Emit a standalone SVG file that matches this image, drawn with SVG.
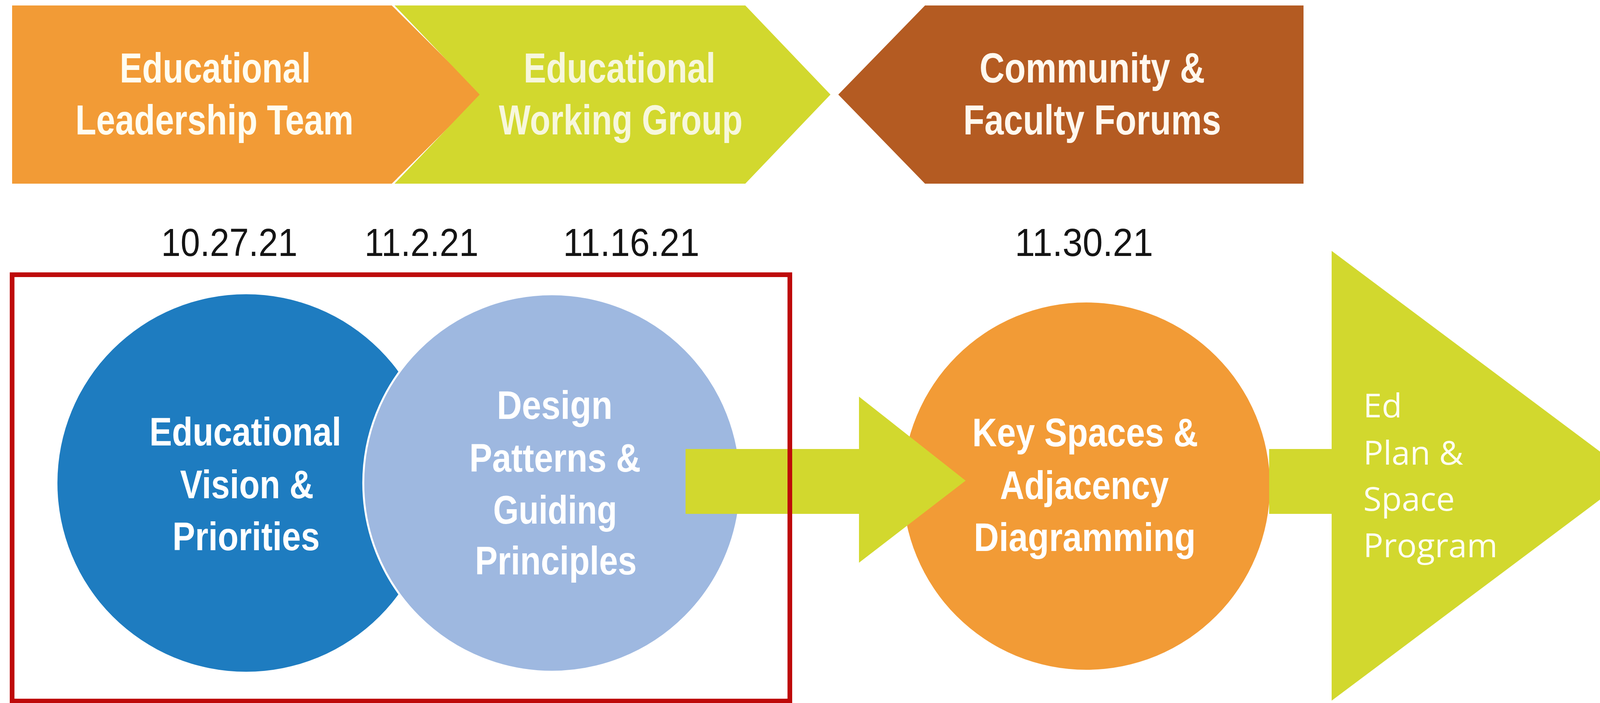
<svg xmlns="http://www.w3.org/2000/svg" width="4179" height="1799" viewBox="0 0 4179 1799">
  <style>
    .bg { fill: #ffffff; }
    .hdr { font-family: "Liberation Sans", Arial, sans-serif; font-weight: bold; font-size: 108px; text-anchor: middle; }
    .date { font-family: "Liberation Sans", Arial, sans-serif; font-size: 100px; fill: #141414; text-anchor: middle; }
    .ctext { font-family: "Liberation Sans", Arial, sans-serif; font-weight: bold; font-size: 102px; text-anchor: middle; fill: #FFFFFF; }
    .otext { font-family: "Open Sans", "Liberation Sans", sans-serif; font-size: 85px; fill: #FFFFF0; }
    .green { fill: #D2D82E; }
  </style>
  <rect class="bg" x="0" y="0" width="4179" height="1799"/>

  <g id="educational-leadership-team">
    <polygon points="31,14 1003,14 1233,242 1003,470 31,470" fill="#F29B36"/>
    <text class="hdr" fill="#FFFDF0" x="551" y="211" textLength="489" lengthAdjust="spacingAndGlyphs">Educational</text>
    <text class="hdr" fill="#FFFDF0" x="549" y="344" textLength="712" lengthAdjust="spacingAndGlyphs">Leadership Team</text>
  </g>

  <g id="educational-working-group">
    <polygon class="green" points="1010,14 1908,14 2126,242 1908,470 1010,470 1228,242"/>
    <text class="hdr" fill="#F7F7DC" x="1586" y="211" textLength="491" lengthAdjust="spacingAndGlyphs">Educational</text>
    <text class="hdr" fill="#F7F7DC" x="1589" y="344" textLength="624" lengthAdjust="spacingAndGlyphs">Working Group</text>
  </g>

  <g id="community-faculty-forums">
    <polygon points="2146,242 2368,14 3337,14 3337,470 2368,470" fill="#B45B22"/>
    <text class="hdr" fill="#FFF8EE" x="2796" y="211" textLength="577" lengthAdjust="spacingAndGlyphs">Community &amp;</text>
    <text class="hdr" fill="#FFF8EE" x="2796" y="344" textLength="660" lengthAdjust="spacingAndGlyphs">Faculty Forums</text>
  </g>

  <g id="dates">
    <text class="date" x="587" y="655" textLength="349" lengthAdjust="spacingAndGlyphs">10.27.21</text>
    <text class="date" x="1079" y="655" textLength="292" lengthAdjust="spacingAndGlyphs">11.2.21</text>
    <text class="date" x="1616" y="655" textLength="349" lengthAdjust="spacingAndGlyphs">11.16.21</text>
    <text class="date" x="2775" y="655" textLength="354" lengthAdjust="spacingAndGlyphs">11.30.21</text>
  </g>

  <g id="educational-vision-priorities">
    <circle cx="630" cy="1236" r="483" fill="#1E7CC0"/>
    <text class="ctext" x="628" y="1140" textLength="491" lengthAdjust="spacingAndGlyphs">Educational</text>
    <text class="ctext" x="632" y="1275" textLength="342" lengthAdjust="spacingAndGlyphs">Vision &amp;</text>
    <text class="ctext" x="630" y="1408" textLength="377" lengthAdjust="spacingAndGlyphs">Priorities</text>
  </g>

  <g id="design-patterns-guiding-principles">
    <circle cx="1413" cy="1236" r="483" fill="#9EB8E0" stroke="#FFFFFF" stroke-width="5"/>
    <text class="ctext" fill="#F4F7FC" x="1420" y="1072" textLength="296" lengthAdjust="spacingAndGlyphs">Design</text>
    <text class="ctext" fill="#F4F7FC" x="1421" y="1207" textLength="439" lengthAdjust="spacingAndGlyphs">Patterns &amp;</text>
    <text class="ctext" fill="#F4F7FC" x="1421" y="1340" textLength="317" lengthAdjust="spacingAndGlyphs">Guiding</text>
    <text class="ctext" fill="#F4F7FC" x="1423" y="1470" textLength="414" lengthAdjust="spacingAndGlyphs">Principles</text>
  </g>

  <g id="key-spaces-adjacency">
    <circle cx="2781" cy="1244" r="470" fill="#F29B36"/>
    <text class="ctext" fill="#FFFDF2" x="2778" y="1142" textLength="578" lengthAdjust="spacingAndGlyphs">Key Spaces &amp;</text>
    <text class="ctext" fill="#FFFDF2" x="2776" y="1277" textLength="432" lengthAdjust="spacingAndGlyphs">Adjacency</text>
    <text class="ctext" fill="#FFFDF2" x="2777" y="1410" textLength="568" lengthAdjust="spacingAndGlyphs">Diagramming</text>
  </g>

  <g id="ed-plan-space-program">
    <polygon class="green" points="3409,642 4178,1217 3409,1793"/>
    <text class="otext" x="3490" y="1068">Ed</text>
    <text class="otext" x="3490" y="1189">Plan &amp;</text>
    <text class="otext" x="3490" y="1307">Space</text>
    <text class="otext" x="3490" y="1426">Program</text>
  </g>

  <g id="connectors">
    <polygon class="green" points="1755,1149 2199,1149 2199,1015 2472,1230 2199,1440 2199,1315 1755,1315"/>
    <rect class="green" x="3249" y="1149" width="162" height="166"/>
  </g>

  <g id="highlight-frame">
    <rect x="31" y="703" width="1991" height="1091" fill="none" stroke="#BE0A0A" stroke-width="12"/>
  </g>
</svg>
